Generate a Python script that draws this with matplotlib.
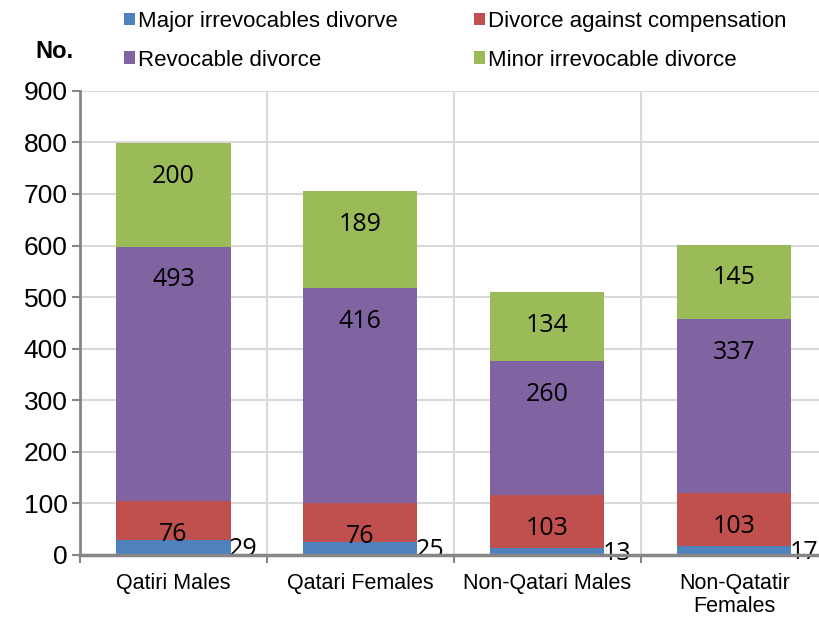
import matplotlib.pyplot as plt
import numpy as np

categories = ["Qatiri Males", "Qatari Females", "Non-Qatari Males", "Non-Qatatir\nFemales"]
major = [29, 25, 13, 17]
compensation = [76, 76, 103, 103]
revocable = [493, 416, 260, 337]
minor = [200, 189, 134, 145]

series_names = ["Major irrevocables divorve", "Divorce against compensation",
                "Revocable divorce", "Minor irrevocable divorce"]
colors = ["#4f81bd", "#c0504d", "#8064a2", "#9bbb59"]

plt.rcParams["font.family"] = ["Liberation Sans", "DejaVu Sans"]

fig = plt.figure(figsize=(8.19, 6.18), dpi=100)
ax = fig.add_axes([0.0977, 0.102, 0.913, 0.751])

x = np.arange(len(categories))
w = 0.61
bottom = np.zeros(len(categories))
bars = []
for vals, col, name in zip([major, compensation, revocable, minor], colors, series_names):
    b = ax.bar(x, vals, w, bottom=bottom, color=col, label=name, zorder=3)
    bars.append((b, vals, bottom.copy()))
    bottom = bottom + np.array(vals)

lab_font = ["Open Sans", "DejaVu Sans"]
# first series: labels to the right of the bar
for xi, v in zip(x, major):
    ax.text(xi + w / 2 - 0.01, v / 2 - 3, str(v), ha="left", va="center",
            fontsize=18, family=lab_font, zorder=4)
# other series: inside end
for b, vals, bot in bars[1:]:
    for xi, v, b0 in zip(x, vals, bot):
        ax.annotate(str(v), (xi, b0 + v), xytext=(0, -24), textcoords="offset points",
                    ha="center", va="center", fontsize=18, family=lab_font, zorder=4)

ax.set_xlim(-0.5, 3.5)
ax.set_ylim(0, 900)
ax.set_yticks(range(0, 901, 100))
ax.set_xticks(x)
ax.set_xticklabels(categories, fontsize=15.5, linespacing=1.15)
ax.tick_params(axis="y", labelsize=19, length=6, width=1.5, color="#868686", pad=3)
ax.tick_params(axis="x", length=0, pad=13)
ax.set_xticks([-0.5, 0.5, 1.5, 2.5], minor=True)
ax.tick_params(axis="x", which="minor", length=6, width=1.5, color="#868686")

ax.grid(axis="y", color="#d9d9d9", lw=1.5, zorder=0)
ax.grid(axis="x", which="minor", color="#d9d9d9", lw=1.5, zorder=0)
for s in ["top", "right"]:
    ax.spines[s].set_visible(False)
ax.spines["left"].set_color("#868686")
ax.spines["left"].set_linewidth(2)
ax.spines["bottom"].set_color("#868686")
ax.spines["bottom"].set_linewidth(2.5)
ax.spines["bottom"].set_zorder(5)

fig.text(0.066, 0.916, "No.", fontsize=17, fontweight="bold", ha="center", va="center")

handles, labels = ax.get_legend_handles_labels()
order = [0, 2, 1, 3]  # fill row by row
fig.legend([handles[i] for i in order], [labels[i] for i in order], ncol=2,
           loc="upper left", bbox_to_anchor=(0.127, 1.015),
           frameon=False, fontsize=16, handlelength=0.5, handleheight=0.5,
           handletextpad=0.15, columnspacing=3.4, labelspacing=0.8)

fig.savefig("out.png", dpi=100)
